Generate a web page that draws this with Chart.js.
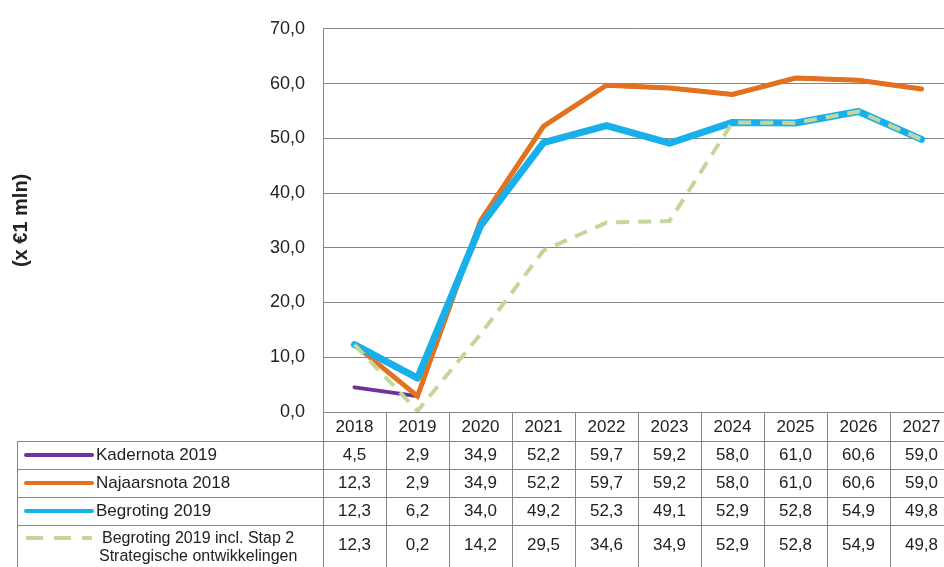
<!DOCTYPE html>
<html>
<head>
<meta charset="utf-8">
<script src="https://cdn.jsdelivr.net/npm/chart.js@4.4.1/dist/chart.umd.min.js"></script>
<style>
  html, body { margin:0; padding:0; background:#fff; overflow:hidden; }
  #wrap { width:960px; height:567px; position:relative; }
</style>
</head>
<body>
<div id="wrap"><canvas id="grafiek"></canvas></div>
<script>
var jaren = ['2018','2019','2020','2021','2022','2023','2024','2025','2026','2027'];
var kadernota = [4.5, 2.9, 34.9, 52.2, 59.7, 59.2, 58.0, 61.0, 60.6, 59.0];
var najaarsnota = [12.3, 2.9, 34.9, 52.2, 59.7, 59.2, 58.0, 61.0, 60.6, 59.0];
var begroting = [12.3, 6.2, 34.0, 49.2, 52.3, 49.1, 52.9, 52.8, 54.9, 49.8];
var begrotingStap2 = [12.3, 0.2, 14.2, 29.5, 34.6, 34.9, 52.9, 52.8, 54.9, 49.8];
var yTicks = [0, 10, 20, 30, 40, 50, 60, 70];

var fontFam = '"Liberation Sans", Arial, sans-serif';
var lijnKleur = '#858585';

function komma(v){ return v.toFixed(1).replace('.', ','); }

// tabel onder de grafiek tekenen
var tabelPlugin = {
  id:'tabel',
  afterDraw:function(chart){
    var ctx = chart.ctx;
    var x = chart.scales.x;
    var area = chart.chartArea;
    var n = jaren.length;
    var kolom = (area.right - area.left) / n;
    var links = 17;
    var rijen = [area.bottom, 441, 469, 497, 525, 600];
    ctx.save();
    ctx.strokeStyle = lijnKleur;
    ctx.lineWidth = 1;
    // horizontale lijnen
    for (var r = 1; r < rijen.length - 1; r++){
      ctx.beginPath();
      ctx.moveTo(links, rijen[r] + 0.5);
      ctx.lineTo(area.right, rijen[r] + 0.5);
      ctx.stroke();
    }
    // linkerrand
    ctx.beginPath();
    ctx.moveTo(links + 0.5, rijen[1]);
    ctx.lineTo(links + 0.5, 567);
    ctx.stroke();
    // kolomlijnen
    for (var k = 0; k <= n; k++){
      var kx = Math.round(area.left + k * kolom) + 0.5;
      ctx.beginPath();
      ctx.moveTo(kx, area.bottom);
      ctx.lineTo(kx, 567);
      ctx.stroke();
    }
    ctx.fillStyle = '#222';
    ctx.font = '17px ' + fontFam;
    ctx.textAlign = 'center';
    ctx.textBaseline = 'middle';
    for (var i = 0; i < n; i++){
      var cx = x.getPixelForValue(i);
      ctx.fillText(jaren[i], cx, 427);
    }
    var ds = chart.data.datasets;
    var volgorde = [3, 2, 1, 0];
    var midden = [455, 483, 511, 545];
    for (var j = 0; j < volgorde.length; j++){
      var d = ds[volgorde[j]];
      var y = midden[j];
      ctx.textAlign = 'center';
      ctx.font = '17px ' + fontFam;
      for (var i2 = 0; i2 < n; i2++){
        ctx.fillText(komma(d.data[i2]), x.getPixelForValue(i2), y);
      }
      // legenda-lijntje
      ctx.save();
      ctx.strokeStyle = d.borderColor;
      ctx.lineWidth = 4;
      ctx.lineCap = d.borderDash ? 'butt' : 'round';
      ctx.setLineDash(d.borderDash ? [17, 11] : []);
      ctx.beginPath();
      var ly = j === 3 ? 538 : y;
      ctx.moveTo(26, ly);
      ctx.lineTo(92, ly);
      ctx.stroke();
      ctx.restore();
      ctx.textAlign = 'left';
      if (j === 3){
        ctx.font = '16px ' + fontFam;
        ctx.fillText('Begroting 2019 incl. Stap 2', 102, 539);
        ctx.fillText('Strategische ontwikkelingen', 99, 557);
      } else {
        ctx.fillText(d.label, 96, y);
      }
    }
    ctx.restore();
  }
};

new Chart(document.getElementById('grafiek'), {
  type:'line',
  data:{
    labels:jaren,
    datasets:[
      {label:'Begroting 2019 incl. Stap 2 Strategische ontwikkelingen', data:begrotingStap2,
       borderColor:'#c4d79b', borderWidth:4, borderDash:[13, 9], order:0},
      {label:'Begroting 2019', data:begroting, borderColor:'#18b0ea', borderWidth:7,
       borderCapStyle:'round', borderJoinStyle:'round', order:1},
      {label:'Najaarsnota 2018', data:najaarsnota, borderColor:'#e4711d', borderWidth:5,
       borderCapStyle:'round', order:2},
      {label:'Kadernota 2019', data:kadernota, borderColor:'#7030a0', borderWidth:4,
       borderCapStyle:'round', order:3}
    ]
  },
  options:{
    responsive:true,
    maintainAspectRatio:false,
    animation:false,
    elements:{ point:{ radius:0 }, line:{ tension:0, fill:false } },
    layout:{ padding:{ left:0, right:7, top:24, bottom:155 } },
    plugins:{ legend:{ display:false }, tooltip:{ enabled:false } },
    scales:{
      x:{
        offset:true,
        grid:{ display:false },
        border:{ display:false },
        ticks:{ display:false },
        afterFit:function(s){ s.height = 0; }
      },
      y:{
        min:0, max:70,
        afterBuildTicks:function(s){ s.ticks = yTicks.map(function(v){ return {value:v}; }); },
        afterFit:function(s){ s.width = 323; },
        grid:{ color:lijnKleur, lineWidth:1, drawTicks:false },
        border:{ display:true, color:lijnKleur, width:1 },
        ticks:{ padding:18, color:'#222', font:{ family:fontFam, size:18 },
          callback:function(v){ return komma(v); } },
        title:{ display:true, text:'(x €1 mln)', color:'#222',
          font:{ family:fontFam, size:20, weight:'bold' }, padding:{ top:9, bottom:0 } }
      }
    }
  },
  plugins:[tabelPlugin]
});
</script>
</body>
</html>
